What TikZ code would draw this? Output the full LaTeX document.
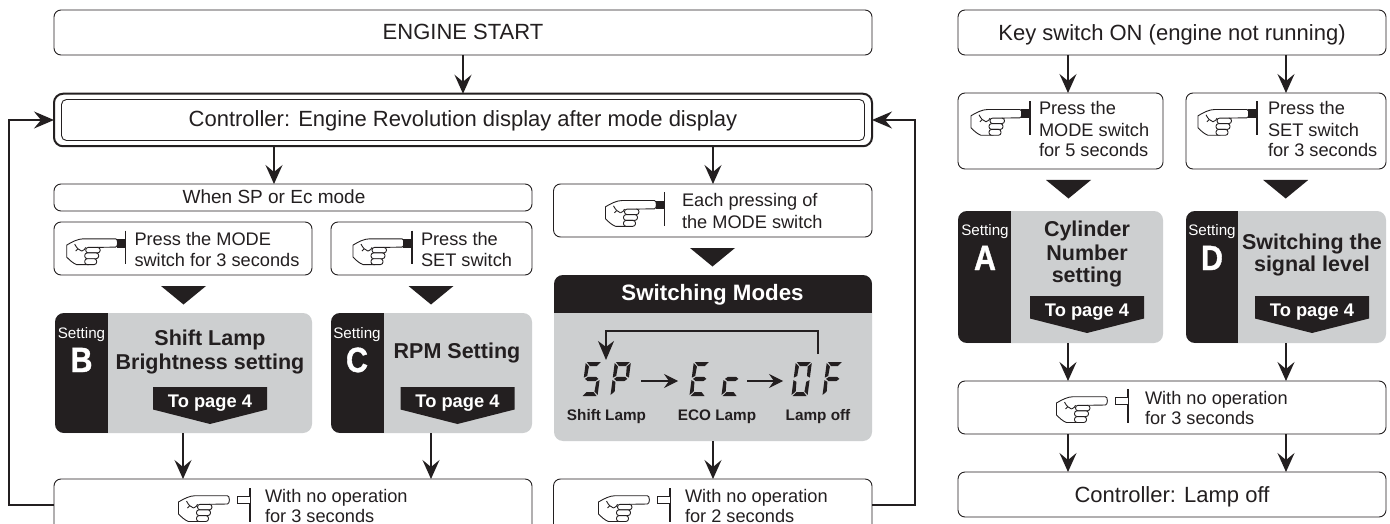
\documentclass[tikz,border=0pt]{standalone}
\usepackage{fontspec}
\setmainfont{Liberation Sans}
\newfontfamily\heavyfont[FakeBold=1.2]{Liberation Sans Bold}
\usetikzlibrary{arrows.meta,calc}
\definecolor{ink}{HTML}{231F20}
\definecolor{panel}{HTML}{CDCFD0}
\tikzset{
  flowbox/.style={draw=ink,line width=0.9pt,rounded corners=7pt,fill=white,inner sep=0pt,outer sep=0pt},
  panelbox/.style={fill=panel,rounded corners=9pt,inner sep=0pt,outer sep=0pt},
  arr/.style={draw=ink,line width=1.4pt,-{Stealth[length=19pt,width=17pt,inset=7pt]}},
  loopline/.style={draw=ink,line width=1.4pt,-{Stealth[length=20pt,width=17pt,inset=7pt]}},
  dispflow/.style={draw=ink,line width=1.1pt,-{Stealth[length=14pt,width=14pt,inset=5pt]}},
  lbl/.style={anchor=base west,inner sep=0pt,outer sep=0pt,text=ink,font=\fontsize{18.2}{20}\selectfont},
  ctr/.style={anchor=base,inner sep=0pt,outer sep=0pt,text=ink,font=\fontsize{22}{24}\selectfont},
  ttl/.style={anchor=base,inner sep=0pt,outer sep=0pt,text=ink,font=\bfseries\fontsize{21.5}{24}\selectfont},
  smalltxt/.style={anchor=base,inner sep=0pt,outer sep=0pt,text=white,font=\fontsize{15.2}{17}\selectfont},
  letter/.style={anchor=base,inner sep=0pt,outer sep=0pt,text=white,xscale=0.87,font=\heavyfont\fontsize{35}{40}\selectfont},
  pagetxt/.style={anchor=base,inner sep=0pt,outer sep=0pt,text=white,font=\bfseries\fontsize{18.3}{20}\selectfont},
  capt/.style={anchor=base,inner sep=0pt,outer sep=0pt,text=ink,font=\bfseries\fontsize{15.3}{17}\selectfont},
  handicon/.pic={
    \begin{scope}[draw=ink,line width=0.9pt,line join=round,fill=white]
      \filldraw (-33.3,-4.3) -- (-1,-4.3) .. controls (1.5,-4.3) and (1.5,4) .. (-1,4) -- (-19,4.3)
         -- (-28,21.5) -- (-40,21.5) .. controls (-44,20) and (-47,17) .. (-50,14)
         -- (-50,2) .. controls (-45,-1) and (-39,-4.3) .. (-33.3,-4.3) -- cycle;
      \filldraw[rounded corners=2.6pt] (-31,4.3) rectangle (-16.5,9.8);
      \filldraw[rounded corners=2.6pt] (-32,9.8) rectangle (-18,15.6);
      \filldraw[rounded corners=2.6pt] (-32,15.6) rectangle (-20,21.5);
      \draw (-42,1) .. controls (-40,5) and (-38,7) .. (-35,8);
      \draw (-39,6) -- (-41,8);
      \draw (-35,8) .. controls (-33,7) and (-31,6) .. (-31,4.3);
    \end{scope}
  },
  segfill/.style={fill=ink,draw=none}
}
% box from (x1,y1) to (x2,y2)
\newcommand{\bx}[6][flowbox]{\node[#1,minimum width={(#4-#2)*1pt},minimum height={(#5-#3)*1pt}] (#6) at ({(#2+#4)/2},{(#3+#5)/2}) {};}
\newcommand{\txt}[5][lbl]{\node[#1] (#2) at (#3,#4) {#5};}
\newcommand{\pressedhand}[2]{% bar x, bar centre y
  \draw[ink,line width=1.3pt] (#1,{#2-16.7}) -- (#1,{#2+16.7});
  \pic at ({#1-9},{#2-4.2}) {handicon};
  \fill[ink] ({#1-9},{#2-8.5}) rectangle (#1,{#2+0.2});
}
\newcommand{\freehand}[2]{% bar x, bar centre y
  \draw[ink,line width=1.3pt] (#1,{#2-16.7}) -- (#1,{#2+16.7});
  \draw[ink,line width=0.9pt,fill=white] (#1,{#2-9}) -- ({#1-13},{#2-9}) -- ({#1-13},{#2-2}) -- (#1,{#2-2});
  \pic at ({#1-21.5},{#2-5}) {handicon};
}
\newcommand{\bigtri}[2]{\fill[ink] ({#1-22.5},#2) -- ({#1+22.5},#2) -- (#1,{#2+18.5}) -- cycle;}
\newcommand{\banner}[3]{% name, centre x, top y
  \fill[ink] ({#2-57},#3) -- ({#2+57},#3) -- ({#2+57},{#3+22.5}) -- (#2,{#3+37}) -- ({#2-57},{#3+22.5}) -- cycle;
  \node[pagetxt] (#1) at (#2,{#3+20.5}) {To page 4};
}
\newcommand{\settingpanel}[6]{% name x1 y1 x2 y2 blackright
  \bx[panelbox]{#2}{#3}{#4}{#5}{#1}
  \begin{scope}
    \clip[rounded corners=9pt] (#1.north west) rectangle (#1.south east);
    \fill[ink] (#2,#3) rectangle (#6,#5);
  \end{scope}
}
% seven-segment parts, origin at lower left of glyph
\newcommand{\sega}{\fill[segfill] (1.5,-34) -- (15.5,-34) -- (12,-30) -- (5,-30) -- cycle;}
\newcommand{\segb}{\fill[segfill] (16.5,-33) -- (16.5,-18.4) -- (13.4,-20) -- (12.9,-29.5) -- cycle;}
\newcommand{\segc}{\fill[segfill] (16.5,-15.8) -- (16.5,-1) -- (12.9,-4.5) -- (13.4,-14.2) -- cycle;}
\newcommand{\segd}{\fill[segfill] (1.5,0) -- (15.5,0) -- (12,-4) -- (5,-4) -- cycle;}
\newcommand{\sege}{\fill[segfill] (0.4,-15.8) -- (3.6,-14.2) -- (4.1,-4.5) -- (0.4,-1) -- cycle;}
\newcommand{\segf}{\fill[segfill] (0.4,-33) -- (4.1,-29.5) -- (3.6,-20) -- (0.4,-18.4) -- cycle;}
\newcommand{\segg}{\fill[segfill] (1.8,-17.1) -- (4.5,-19.2) -- (12.5,-19.2) -- (15.2,-17.1) -- (12.5,-15) -- (4.5,-15) -- cycle;}
\newcommand{\glyph}[2]{\begin{scope}[shift={(#1,396)},xslant=0.13]#2\end{scope}}
\begin{document}
\begin{tikzpicture}[x=1pt,y=-1pt]
\clip (0,0) rectangle (1390,524);
\fill[white] (0,0) rectangle (1390,524);
% left main boxes
\bx{54}{10}{872}{55}{start}
\txt[ctr]{startT}{463}{40}{ENGINE START}
\node[draw=ink,line width=2pt,rounded corners=9pt,fill=white,inner sep=0pt,outer sep=0pt,minimum width=818pt,minimum height=52.5pt] (ctrl) at (463,120) {};
\node[draw=ink,line width=0.9pt,rounded corners=5pt,inner sep=0pt,outer sep=0pt,minimum width=803pt,minimum height=41pt] (ctrlin) at (463,120) {};
\txt[ctr]{ctrlT}{463}{127}{Controller: Engine Revolution display after mode display}
\bx{54}{184}{532}{211}{when}
\txt[ctr]{whenT}{274}{203.5}{\fontsize{19}{21}\selectfont When SP or Ec mode}
\bx{54}{222}{312}{275}{pmode}
\pressedhand{125.7}{247.3}
\txt{pmodeA}{134.5}{245}{Press the MODE}
\txt{pmodeB}{134.5}{266}{switch for 3 seconds}
\bx{331}{222}{532}{275}{pset}
\pressedhand{412}{247.3}
\txt{psetA}{421}{245}{Press the}
\txt{psetB}{421}{266}{SET switch}
\bx{553.5}{184}{872}{237}{each}
\pressedhand{664.5}{209}
\txt{eachA}{682}{207}{Each pressing of}
\txt{eachB}{682}{228}{the MODE switch}
\bigtri{183.5}{286}
\bigtri{431}{286}
\bigtri{712.5}{248}
% Setting B
\settingpanel{setB}{55}{313}{312}{433}{108}
\txt[smalltxt]{setBa}{81.5}{338}{Setting}
\txt[letter]{setBb}{81.5}{372}{B}
\txt[ttl]{setBc}{210}{345}{Shift Lamp}
\txt[ttl]{setBd}{210}{369}{Brightness setting}
\banner{setBe}{210}{387}
% Setting C
\settingpanel{setC}{331}{313}{532}{433}{383.5}
\txt[smalltxt]{setCa}{357}{338}{Setting}
\txt[letter]{setCb}{357}{372}{C}
\txt[ttl]{setCc}{457}{358}{RPM Setting}
\banner{setCe}{457.5}{387}
% Switching modes
\bx[panelbox]{554}{275}{872}{441}{modes}
\begin{scope}
  \clip[rounded corners=9pt] (modes.north west) rectangle (modes.south east);
  \fill[ink] (554,275) rectangle (872,313);
\end{scope}
\node[anchor=base,inner sep=0pt,text=white,font=\bfseries\fontsize{22.3}{24}\selectfont] (modesT) at (712.5,300.5) {Switching Modes};
\glyph{581}{\sega\segf\segg\segc\segd}
\glyph{610}{\sega\segf\segb\segg\sege}
\glyph{689}{\sega\segf\segg\sege\segd}
\glyph{721}{\segg\sege\segd}
\glyph{791}{\sega\segb\segc\segd\sege\segf}
\glyph{822}{\sega\segf\segg\sege}
\coordinate (dsA) at (641,381); \coordinate (dsB) at (678,381);
\coordinate (deA) at (747,381); \coordinate (deB) at (783,381);
\coordinate (fbA) at (818,354); \coordinate (fbB) at (606,360);
\draw[dispflow] (dsA) -- (dsB);
\draw[dispflow] (deA) -- (deB);
\draw[draw=ink,line width=1.1pt,-{Stealth[length=19pt,width=16pt,inset=6pt]}] (fbA) |- (606,331) -- (fbB);
\txt[capt]{capA}{606.5}{420.5}{Shift Lamp}
\txt[capt]{capB}{717}{420.5}{ECO Lamp}
\txt[capt]{capC}{818}{420.5}{Lamp off}
% bottom boxes
\bx{54}{479}{532}{560}{noA}
\freehand{250}{505}
\txt{noAa}{265}{502}{With no operation}
\txt{noAb}{265}{522}{for 3 seconds}
\bx{553.5}{479}{872}{560}{noB}
\freehand{670}{505}
\txt{noBa}{685}{502}{With no operation}
\txt{noBb}{685}{522}{for 2 seconds}
% left arrows
\draw[arr] (start.south -| 463,0) -- (ctrl.north -| 463,0);
\draw[arr] (ctrl.south -| 274,0) -- (when.north -| 274,0);
\draw[arr] (ctrl.south -| 713,0) -- (each.north -| 713,0);
\draw[arr] (setB.south -| 183,0) -- (noA.north -| 183,0);
\draw[arr] (setC.south -| 431,0) -- (noA.north -| 431,0);
\draw[arr] (modes.south -| 713,0) -- (noB.north -| 713,0);
\draw[loopline] (54,505) -- (9,505) -- (9,120) -- (ctrl.west);
\draw[loopline] (872,505) -- (915,505) -- (915,120) -- (ctrl.east);
% right column
\bx{958}{10}{1386}{55}{key}
\txt[ctr]{keyT}{1172}{40.5}{Key switch ON (engine not running)}
\bx{958}{93}{1163}{169}{pm5}
\pressedhand{1030}{118}
\txt{pmFa}{1039}{115}{Press the}
\txt{pmFb}{1039}{137}{MODE switch}
\txt{pmFc}{1039}{157}{for 5 seconds}
\bx{1186}{93}{1386}{169}{ps3}
\pressedhand{1257}{118}
\txt{psTa}{1268}{115}{Press the}
\txt{psTb}{1268}{137}{SET switch}
\txt{psTc}{1268}{157}{for 3 seconds}
\bigtri{1068.5}{180}
\bigtri{1285.7}{180}
\settingpanel{setA}{958}{211}{1163}{343}{1011}
\txt[smalltxt]{setAa}{985}{235}{Setting}
\txt[letter]{setAb}{985}{270}{A}
\txt[ttl]{setAc}{1087}{236}{Cylinder}
\txt[ttl]{setAd}{1087}{260}{Number}
\txt[ttl]{setAf}{1087}{282}{setting}
\banner{setAe}{1087}{296}
\settingpanel{setD}{1186}{211}{1386}{343}{1238}
\txt[smalltxt]{setDa}{1212}{235}{Setting}
\txt[letter]{setDb}{1212}{270}{D}
\txt[ttl]{setDc}{1312}{249}{Switching the}
\txt[ttl]{setDd}{1312}{271}{signal level}
\banner{setDe}{1312}{296}
\bx{958}{381}{1386}{434}{noC}
\freehand{1128}{406}
\txt{noCa}{1145}{404}{With no operation}
\txt{noCb}{1145}{424}{for 3 seconds}
\bx{958}{472}{1386}{517}{off}
\txt[ctr]{offT}{1172}{502}{Controller: Lamp off}
\draw[arr] (key.south -| 1068,0) -- (pm5.north -| 1068,0);
\draw[arr] (key.south -| 1286,0) -- (ps3.north -| 1286,0);
\draw[arr] (setA.south -| 1068,0) -- (noC.north -| 1068,0);
\draw[arr] (setD.south -| 1286,0) -- (noC.north -| 1286,0);
\draw[arr] (noC.south -| 1068,0) -- (off.north -| 1068,0);
\draw[arr] (noC.south -| 1286,0) -- (off.north -| 1286,0);
\end{tikzpicture}
\end{document}
